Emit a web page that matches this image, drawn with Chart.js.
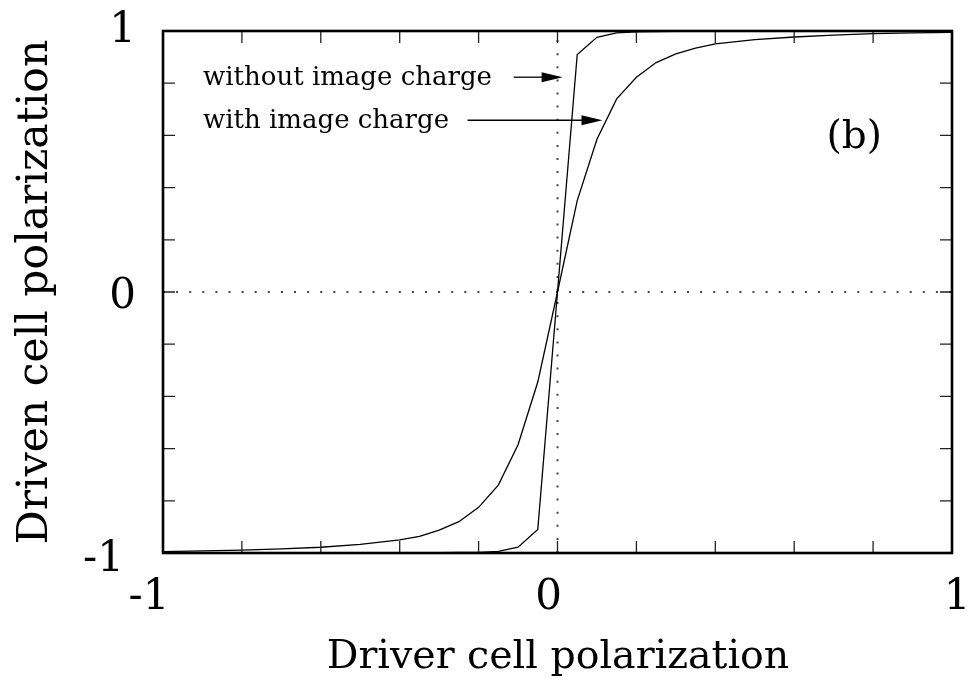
<!DOCTYPE html>
<html>
<head>
<meta charset="utf-8">
<script src="https://cdn.jsdelivr.net/npm/chart.js@4.4.1/dist/chart.umd.min.js"></script>
<style>
  body { margin: 0; background: #fff; }
  canvas { display: block; }
</style>
</head>
<body>
<canvas id="myChart" width="973" height="686"></canvas>
<script>
// driver polarization (x) sampled for both curves
const driver_pol = [-1, -0.9, -0.8, -0.7, -0.6, -0.5, -0.4, -0.35, -0.3, -0.25, -0.2, -0.15, -0.1, -0.05,
    0, 0.05, 0.1, 0.15, 0.2, 0.25, 0.3, 0.35, 0.4, 0.5, 0.6, 0.7, 0.8, 0.9, 1];

// driven cell polarization
const with_image = [-0.995, -0.992, -0.989, -0.984, -0.978, -0.967, -0.95, -0.936, -0.912, -0.88, -0.825, -0.74, -0.585, -0.345,
    0, 0.35, 0.585, 0.74, 0.823, 0.879, 0.912, 0.934, 0.951, 0.967, 0.977, 0.984, 0.99, 0.993, 0.995];
const without_image = [-1, -1, -1, -1, -1, -1, -0.999, -0.999, -0.999, -0.998, -0.998, -0.994, -0.978, -0.91,
    0, 0.91, 0.976, 0.993, 0.997, 0.998, 0.999, 0.999, 1, 1, 1, 1, 1, 1, 1];

const x_tick_labels = [-1, 0, 1];
const y_tick_labels = [-1, 0, 1];
const minor_step = 0.2;

const serif = '"DejaVu Serif", "Liberation Serif", serif';

function to_points(ys) {
    return driver_pol.map((x, i) => ({x: x, y: ys[i]}));
}

/** arrow from (x0,y) to (x1,y) in data units, filled head at x1 */
function arrow(ctx, xs, ys, x0, x1, y) {
    const px0 = xs.getPixelForValue(x0), px1 = xs.getPixelForValue(x1), py = ys.getPixelForValue(y);
    ctx.strokeStyle = '#000';
    ctx.lineWidth = 1.3;
    ctx.beginPath();
    ctx.moveTo(px0, py);
    ctx.lineTo(px1 - 18, py);
    ctx.stroke();
    ctx.fillStyle = '#000';
    ctx.beginPath();
    ctx.moveTo(px1, py);
    ctx.lineTo(px1 - 21, py - 5);
    ctx.lineTo(px1 - 21, py + 5);
    ctx.closePath();
    ctx.fill();
}

const framePlugin = {
    id: 'frame',
    beforeDatasetsDraw(chart) {
        const ctx = chart.ctx, xs = chart.scales.x, ys = chart.scales.y, a = chart.chartArea;
        // dotted zero lines
        ctx.save();
        ctx.strokeStyle = '#444';
        ctx.lineWidth = 2;
        ctx.setLineDash([2, 11.1]);
        ctx.beginPath();
        ctx.moveTo(xs.getPixelForValue(0), a.bottom);
        ctx.lineTo(xs.getPixelForValue(0), a.top);
        ctx.moveTo(a.left, ys.getPixelForValue(0));
        ctx.lineTo(a.right, ys.getPixelForValue(0));
        ctx.stroke();
        ctx.restore();
    },
    afterDraw(chart) {
        const ctx = chart.ctx, xs = chart.scales.x, ys = chart.scales.y, a = chart.chartArea;
        ctx.save();
        // inward ticks on all four sides
        ctx.strokeStyle = '#222';
        ctx.lineWidth = 1.3;
        ctx.beginPath();
        for (let v = -1 + minor_step; v < 1 - 1e-9; v += minor_step) {
            const px = xs.getPixelForValue(v), py = ys.getPixelForValue(v);
            ctx.moveTo(px, a.bottom); ctx.lineTo(px, a.bottom - 12);
            ctx.moveTo(px, a.top); ctx.lineTo(px, a.top + 12);
            ctx.moveTo(a.left, py); ctx.lineTo(a.left + 12, py);
            ctx.moveTo(a.right, py); ctx.lineTo(a.right - 12, py);
        }
        ctx.stroke();
        // frame
        ctx.strokeStyle = '#000';
        ctx.lineWidth = 2.6;
        ctx.strokeRect(a.left, a.top, a.right - a.left, a.bottom - a.top);

        // tick labels
        ctx.fillStyle = '#000';
        ctx.font = '42px ' + serif;
        ctx.textAlign = 'right';
        ctx.textBaseline = 'middle';
        y_tick_labels.forEach(v => {
            const off = v === -1 ? 7 : (v === 1 ? 0 : 5);
            const right = v === -1 ? 124 : 136;
            ctx.fillText(String(v), right, ys.getPixelForValue(v) + off);
        });
        ctx.textAlign = 'center';
        x_tick_labels.forEach(v => {
            const off = v === -1 ? -14 : (v === 0 ? -9 : 5);
            ctx.fillText(String(v), xs.getPixelForValue(v) + off, 598);
        });

        // axis titles
        ctx.font = '39.5px ' + serif;
        ctx.fillText('Driver cell polarization', 558, 658);
        ctx.save();
        ctx.translate(36, 292);
        ctx.rotate(-Math.PI / 2);
        ctx.font = '42.5px ' + serif;
        ctx.fillText('Driven cell polarization', 0, 0);
        ctx.restore();

        // annotations
        ctx.font = '26px ' + serif;
        ctx.textAlign = 'left';
        ctx.fillText('without image charge', 203, 78);
        ctx.fillText('with image charge', 203, 121);
        arrow(ctx, xs, ys, -0.111, 0.013, 0.823);
        arrow(ctx, xs, ys, -0.228, 0.114, 0.658);

        ctx.font = '39px ' + serif;
        ctx.textAlign = 'center';
        ctx.fillText('(b)', xs.getPixelForValue(0.752), ys.getPixelForValue(0.6) + 2);
        ctx.restore();
    }
};

function line_set(name, ys) {
    return {
        label: name,
        data: to_points(ys),
        borderColor: '#000',
        borderWidth: 1.3,
        pointRadius: 0,
        showLine: true,
        fill: false,
        tension: 0,
    };
}

let ctx = document.getElementById('myChart').getContext('2d');
let myChart = new Chart(ctx, {
    type: 'scatter',
    data: {
        datasets: [
            line_set('with image charge', with_image),
            line_set('without image charge', without_image),
        ],
    },
    options: {
        responsive: false,
        animation: false,
        layout: { padding: { left: 163, top: 31, right: 21, bottom: 133 } },
        plugins: { legend: { display: false }, tooltip: { enabled: false } },
        scales: {
            x: { type: 'linear', min: -1, max: 1, display: false },
            y: { type: 'linear', min: -1, max: 1, display: false },
        },
    },
    plugins: [framePlugin],
});
</script>
</body>
</html>
